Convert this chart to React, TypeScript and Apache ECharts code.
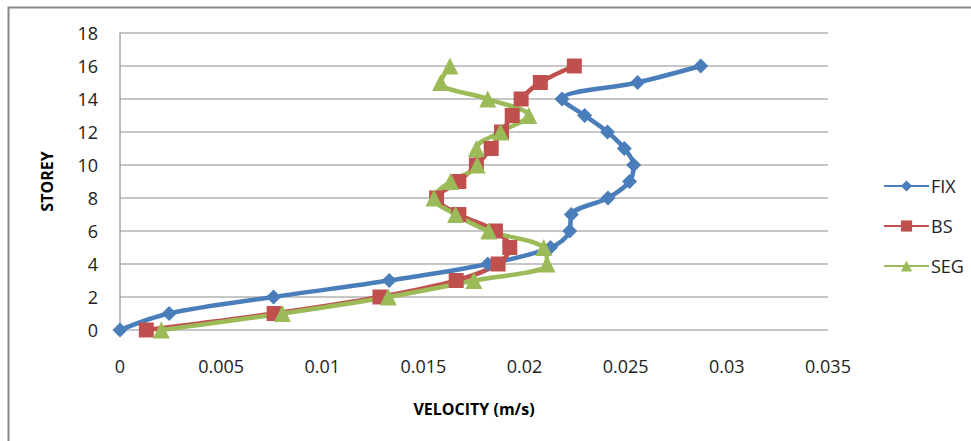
import React, { useEffect, useRef } from "react";
import * as echarts from "echarts";

const storeys = [0, 1, 2, 3, 4, 5, 6, 7, 8, 9, 10, 11, 12, 13, 14, 15, 16];
const fixVel = [0, 0.00243, 0.00759, 0.01331, 0.01818, 0.02128, 0.02223, 0.02231, 0.02412, 0.02519, 0.02539, 0.02493, 0.0241, 0.02297, 0.02185, 0.02559, 0.02871];
const bsVel = [0.0013, 0.00762, 0.01285, 0.01662, 0.01869, 0.01927, 0.01856, 0.01675, 0.01565, 0.01675, 0.01762, 0.01835, 0.01886, 0.01939, 0.01983, 0.02078, 0.02246];
const segVel = [0.00204, 0.00803, 0.01326, 0.01749, 0.02111, 0.02095, 0.01823, 0.01659, 0.01552, 0.01634, 0.01766, 0.01762, 0.01881, 0.02021, 0.01818, 0.01585, 0.01631];
const seriesNames = ["FIX", "BS", "SEG"];
const xTitle = "VELOCITY (m/s)";
const yTitle = "STOREY";

const FONT = "'Open Sans', 'Noto Sans', sans-serif";

export default function App() {
  const ref = useRef<HTMLDivElement>(null);
  useEffect(() => {
    if (!ref.current) return;
    const chart = echarts.init(ref.current, undefined, { renderer: "svg" });
    const pairs = (vals: number[]) => vals.map((v, i) => [v, storeys[i]]);
    const mk = (name: string, vals: number[], color: string, symbol: string, size: number) => ({
      name,
      type: "line",
      data: pairs(vals),
      smooth: 0.35,
      symbol,
      symbolSize: size,
      showAllSymbol: true,
      color: color,
      lineStyle: { width: 4.5, color: color, type: "solid" },
      itemStyle: { color: color },
    });
    chart.setOption({
      animation: false,
      textStyle: { fontFamily: FONT },
      grid: { left: 120, right: 143, top: 33, bottom: 111, containLabel: false },
      xAxis: {
        type: "value",
        min: 0,
        max: 0.035,
        interval: 0.005,
        name: xTitle,
        nameLocation: "middle",
        nameGap: 71,
        nameTextStyle: { fontFamily: FONT, fontSize: 16, fontWeight: "bold", color: "#000" },
        axisLine: { show: false },
        axisTick: { show: false },
        splitLine: { show: false },
        axisLabel: { fontFamily: FONT, fontSize: 18, color: "#222", margin: 27 },
      },
      yAxis: {
        type: "value",
        min: 0,
        max: 18,
        interval: 2,
        name: yTitle,
        nameLocation: "middle",
        nameRotate: 90,
        nameGap: 65,
        nameTextStyle: { fontFamily: FONT, fontSize: 16, fontWeight: "bold", color: "#000" },
        axisLine: { show: true, lineStyle: { color: "#a6a6a6", width: 1.5 } },
        axisTick: { show: false },
        splitLine: { show: true, lineStyle: { color: "#b3b3b3", width: 1.5 } },
        axisLabel: { fontFamily: FONT, fontSize: 18, color: "#222", margin: 22 },
      },
      legend: {
        orient: "vertical",
        left: 878,
        top: 172,
        itemWidth: 45,
        itemHeight: 14,
        itemGap: 22,
        textStyle: { fontFamily: FONT, fontSize: 18, color: "#222", padding: [0, 0, 0, -3] },
        data: seriesNames,
      },
      graphic: [
        {
          type: "rect",
          shape: { x: 8.5, y: 7.5, width: 1200, height: 1200 },
          style: { fill: "none", stroke: "#878787", lineWidth: 2 },
          silent: true,
        },
      ],
      series: [
        mk(seriesNames[0], fixVel, "#4a7ebb", "diamond", 15),
        mk(seriesNames[1], bsVel, "#c0504d", "rect", 15),
        mk(seriesNames[2], segVel, "#9bbb59", "triangle", 17),
      ],
    });
    return () => chart.dispose();
  }, []);
  return (
    <div
      ref={ref}
      style={{ position: "absolute", left: 0, top: 0, width: 971, height: 441, background: "#fff" }}
    />
  );
}
